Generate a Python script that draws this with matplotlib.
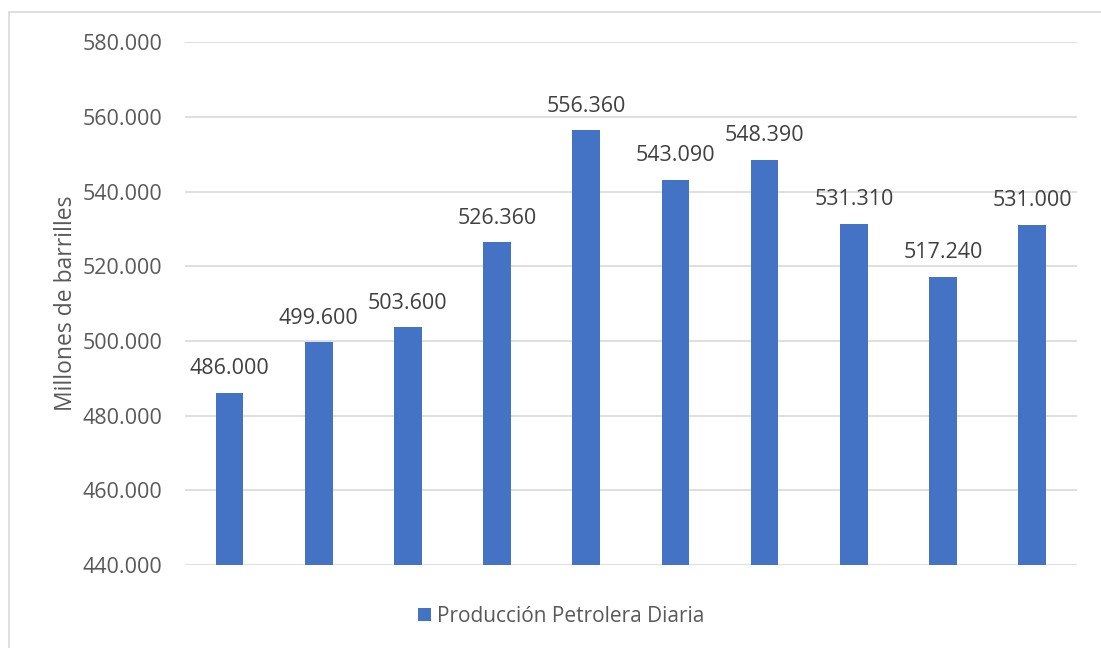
import numpy as np
import matplotlib.pyplot as plt
from matplotlib.patches import Rectangle

# daily oil production, one bar per period
produccion = [486000, 499600, 503600, 526360, 556360, 543090, 548390, 531310, 517240, 531000]
y_ticks = [440000, 460000, 480000, 500000, 520000, 540000, 560000, 580000]
serie = "Producción Petrolera Diaria"


def miles(v):
    return f"{v:,.0f}".replace(",", ".")


plt.rcParams['font.family'] = ['Open Sans', 'DejaVu Sans']

fig = plt.figure(figsize=(11.01, 6.48), dpi=100)
ax = fig.add_axes([0.168, 0.128, 0.81, 0.807])

# light chart border
fig.patches.append(Rectangle((9 / 1101, -0.01), 1.02, 1 - 12 / 648 + 0.01,
                             transform=fig.transFigure, fill=False,
                             edgecolor='#d9d9d9', linewidth=1.2))

x = np.arange(len(produccion))
bars = ax.bar(x, produccion, width=0.31, color='#4472c4', label=serie, zorder=3)

for xi, v in zip(x, produccion):
    ax.annotate(miles(v), (xi, v), xytext=(0, 10), textcoords='offset points',
                ha='center', va='bottom', fontsize=15.5, color='#404040')

ax.set_xlim(-0.5, len(produccion) - 0.5)
ax.set_ylim(y_ticks[0], y_ticks[-1])
ax.set_yticks(y_ticks)
ax.set_yticklabels([miles(t) for t in y_ticks], fontsize=15.5, color='#595959')
ax.set_xticks([])
ax.tick_params(axis='y', length=0, pad=16)
ax.grid(axis='y', color='#d9d9d9', linewidth=1.2, zorder=0)
for s in ax.spines.values():
    s.set_visible(False)

ax.set_ylabel("Millones de barrilles", fontsize=16.5, color='#595959')
ax.yaxis.set_label_coords(-0.12, 0.5)

fig.legend(handles=[bars], labels=[serie], loc='center', bbox_to_anchor=(0.51, 0.049),
           frameon=False, fontsize=15, handlelength=0.6, handleheight=0.6,
           handletextpad=0.3, labelcolor='#595959')

fig.savefig("out.png", dpi=100)
